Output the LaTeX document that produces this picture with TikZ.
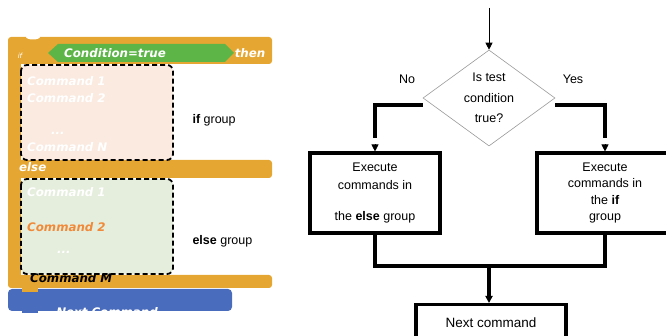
\documentclass[tikz,border=0pt]{standalone}
\usepackage{fontspec}
\setmainfont{Liberation Sans}
\newfontfamily\blocofont{DejaVu Sans}
\usetikzlibrary{shapes.geometric,arrows.meta}

\begin{document}
\begin{tikzpicture}[x=1pt,y=-1pt,font=\fontsize{12.5}{18}\selectfont,
    caixa/.style={draw,line width=3.1pt,minimum width=130pt,minimum height=80pt,
      align=center,inner sep=0pt},
    fluxo/.style={line width=3.1pt},
    ponta/.style={-{Triangle[length=7pt,width=7pt]}},
    bloco/.style={font=\blocofont\bfseries\itshape\fontsize{11.8}{13}\selectfont,
      text=white,anchor=west,inner sep=0pt},
    grupo/.style={draw=black,line width=1.8pt,dash pattern=on 5pt off 3pt,
      rounded corners=6pt}]
  \definecolor{laranja}{HTML}{E6A632}
  \definecolor{verde}{HTML}{5DB548}
  \definecolor{rosa}{HTML}{FAEAE0}
  \definecolor{verdeclaro}{HTML}{E5EEDC}
  \definecolor{azul}{HTML}{4A6CBC}
  \definecolor{laranjatexto}{HTML}{F08A3A}
  \useasboundingbox (0,0) rectangle (666,336);

  % bloco if/else (lado esquerdo)
  \fill[azul,rounded corners=4pt] (8,289) rectangle (232,311);
  \fill[azul] (22,308) rectangle (38,313);
  \node[bloco,anchor=north] (prox_bloco) at (107,307) {Next Command};
  \fill[laranja,rounded corners=3pt] (8,37) rectangle (272,64);
  \fill[laranja] (8,40) rectangle (21,285);
  \fill[laranja,rounded corners=3pt] (8,160) rectangle (272,178);
  \fill[laranja,rounded corners=3pt] (8,275) rectangle (272,288);
  \fill[laranja] (22,286) rectangle (38,292);
  \fill[white] (33,37) ellipse (7pt and 2.5pt);
  % condição
  \fill[verde] (48,53) -- (58,44) -- (225,44) -- (234,53) -- (225,62) -- (58,62) -- cycle;
  \node[bloco,anchor=center] (cond) at (115,53) {Condition=true};
  \node[bloco,anchor=center] (entao) at (250,53) {then};
  \node[font=\blocofont\itshape\fontsize{7}{8}\selectfont,text=white,inner sep=0pt] (kw_if) at (20,56) {if};
  \node[bloco] (kw_else) at (19,167) {else};
  % grupos tracejados
  \draw[grupo,fill=rosa] (21,65) rectangle (173,160);
  \draw[grupo,fill=verdeclaro] (21,179) rectangle (173,274);
  \foreach \t/\yy/\nome in {Command 1/81/c1, Command 2/98/c2, Command N/147/cn}
    \node[bloco] (if_\nome) at (27,\yy) {\t};
  \node[bloco] (if_pts) at (51,133) {...};
  \node[bloco] (else_c1) at (27,192) {Command 1};
  \node[bloco,text=laranjatexto] (else_c2) at (27,227) {Command 2};
  \node[bloco] (else_pts) at (57,252) {...};
  \node[bloco,text=black] (else_cm) at (30,278) {Command M};
  \node[anchor=west] (rot_if) at (189,120) {\textbf{if} group};
  \node[anchor=west] (rot_else) at (189,241) {\textbf{else} group};

  % fluxograma (lado direito)
  \coordinate (entrada) at (489,8);
  \node[draw=gray!80,line width=0.6pt,diamond,aspect=1.36,minimum width=132pt,
    minimum height=96pt,inner sep=0pt,align=center,
    font=\fontsize{12.5}{20.5}\selectfont] (teste) at (489,98) {Is test\\condition\\true?};
  \node (nao) at (407,79) {No};
  \node (sim) at (573,79) {Yes};
  \node[caixa] (ramo_else) at (375,193) {Execute\\commands in\\[13pt]the \textbf{else} group};
  \node[caixa,minimum width=136pt,font=\fontsize{12.5}{16.5}\selectfont] (ramo_if) at (605,193)
    {Execute\\commands in\\the \textbf{if}\\group};
  \node[caixa,minimum width=150pt,minimum height=36pt,anchor=north,
    font=\fontsize{13.5}{16}\selectfont] (proximo) at (491,303) {Next command};
  \coordinate (juncao) at (489,266);

  \draw[line width=0.8pt,ponta] (entrada) -- (teste.north);
  \draw[fluxo] ([yshift=-7pt]teste.west) -| ([yshift=13pt]ramo_else.north);
  \draw[fluxo] ([yshift=-7pt]teste.east) -| ([yshift=13pt]ramo_if.north);
  \draw[line width=0.8pt,ponta] ([yshift=7pt]ramo_else.north) -- (ramo_else.north);
  \draw[line width=0.8pt,ponta] ([yshift=7pt]ramo_if.north) -- (ramo_if.north);
  \draw[fluxo] (ramo_else.south) |- (juncao) -| (ramo_if.south);
  \draw[fluxo,ponta] (juncao) -- (juncao |- proximo.north);
\end{tikzpicture}
\end{document}
